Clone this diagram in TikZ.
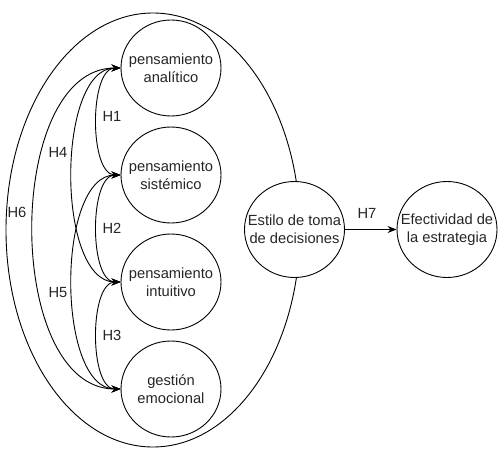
\documentclass[tikz,border=0pt]{standalone}
\usepackage{fontspec}
\setmainfont{Liberation Sans}
\usetikzlibrary{arrows.meta,shapes.geometric}
\begin{document}
\begin{tikzpicture}[x=1pt,y=-1pt,
  every node/.style={font=\fontsize{14.7}{18}\selectfont, text=black!85},
  circ/.style={ellipse,draw,line width=0.9pt,fill=white,minimum width=100pt,minimum height=96pt,inner sep=0pt},
  txt/.style={align=center,inner sep=0pt},
  lbl/.style={inner sep=0pt},
  bi/.style={line width=0.9pt,{Stealth[length=9pt,width=7pt]}-{Stealth[length=9pt,width=7pt]}},
  one/.style={line width=0.9pt,-{Stealth[length=9pt,width=7pt]}}]
\useasboundingbox (0,0) rectangle (501,455);
% big ellipse
\draw[line width=0.9pt] (153,230) ellipse [x radius=147, y radius=217];
% nodes
\node[circ,label={[txt]center:pensamiento\\analítico}] (a) at (171,68) {};
\node[circ,label={[txt]center:pensamiento\\sistémico}] (s) at (171,175) {};
\node[circ,label={[txt]center:pensamiento\\intuitivo}] (i) at (171,282) {};
\node[circ,label={[txt]center:gestión\\emocional}] (g) at (171,389) {};
\node[circ,label={[txt]center:Estilo de toma\\de decisiones}] (e) at (294.5,229.5) {};
\node[circ,label={[txt]center:Efectividad de\\la estrategia}] (f) at (447,229.5) {};
% connectors
\draw[bi] (a.west) .. controls (89,68) and (89,175) .. (s.west);
\draw[bi] (s.west) .. controls (89,175) and (89,282) .. (i.west);
\draw[bi] (i.west) .. controls (89,282) and (89,389) .. (g.west);
\draw[bi] (a.west) .. controls (56,68) and (56,282) .. (i.west);
\draw[bi] (s.west) .. controls (56,175) and (56,389) .. (g.west);
\draw[bi] (a.west) .. controls (4,68) and (4,389) .. (g.west);
\draw[one] (e.east) -- (f.west);
% labels
\node[lbl] (h1) at (112,116) {H1};
\node[lbl] (h2) at (112,228) {H2};
\node[lbl] (h3) at (112,335) {H3};
\node[lbl] (h4) at (58,152) {H4};
\node[lbl] (h5) at (58,293) {H5};
\node[lbl] (h6) at (17,212) {H6};
\node[lbl] (h7) at (367,213) {H7};
\end{tikzpicture}
\end{document}
